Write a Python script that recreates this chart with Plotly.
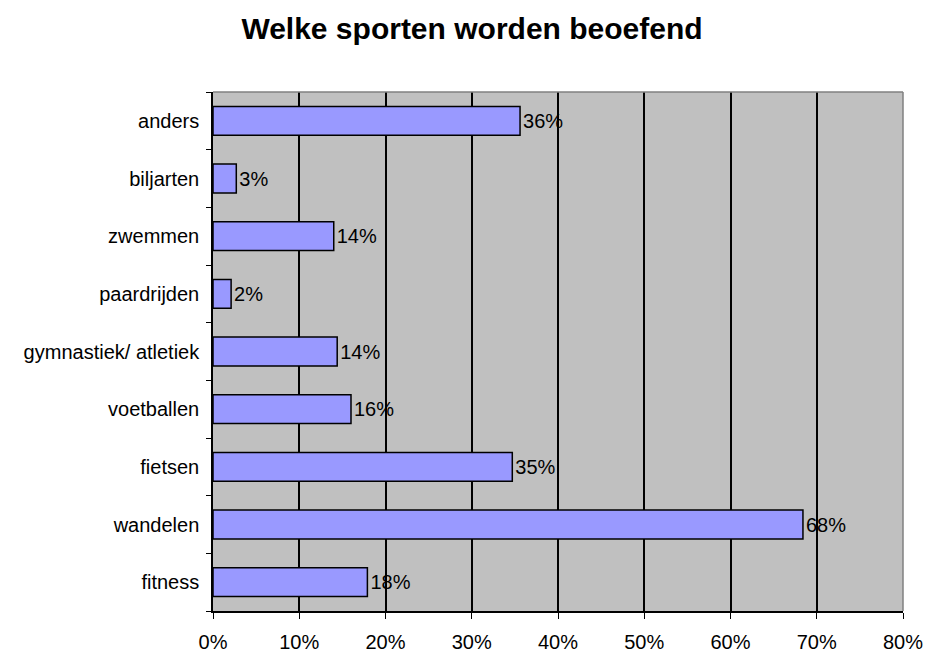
import plotly.graph_objects as go

categories = ["fitness", "wandelen", "fietsen", "voetballen", "gymnastiek/ atletiek",
              "paardrijden", "zwemmen", "biljarten", "anders"]
values = [17.9, 68.4, 34.7, 16.0, 14.4, 2.1, 14.0, 2.7, 35.6]
labels = [f"{round(v)}%" for v in values]
tick_vals = [0, 10, 20, 30, 40, 50, 60, 70, 80]
tick_text = [f"{t}%" for t in tick_vals]

FONT = "Liberation Sans, Arial"

fig = go.Figure(go.Bar(
    y=categories, x=values, orientation="h",
    marker=dict(color="#9999FF", line=dict(color="black", width=1.5)),
    text=labels, textposition="outside", cliponaxis=False,
    textfont=dict(family=FONT, size=20, color="black"),
    width=0.5, hoverinfo="skip",
))

fig.update_layout(
    width=926, height=653,
    paper_bgcolor="white", plot_bgcolor="#C0C0C0",
    margin=dict(l=213, r=23, t=92, b=42, autoexpand=False),
    title=dict(text="<b>Welke sporten worden beoefend</b>", x=0.5097, xanchor="center",
               y=0.9556, yanchor="middle",
               font=dict(family=FONT, size=30, color="black")),
    showlegend=False,
    font=dict(family=FONT, size=20, color="black"),
    shapes=[
        dict(type="line", xref="paper", yref="paper", x0=0, x1=1, y0=1, y1=1,
             line=dict(color="#808080", width=1.5), layer="above"),
        dict(type="line", xref="paper", yref="paper", x0=1, x1=1, y0=0, y1=1,
             line=dict(color="#808080", width=1.5), layer="above"),
    ],
)
fig.update_xaxes(range=[0, 80], tickvals=tick_vals, ticktext=tick_text,
                 automargin=False,
                 showgrid=True, gridcolor="black", gridwidth=1.5,
                 showline=True, linecolor="black", linewidth=1.5,
                 ticks="outside", ticklen=6, tickcolor="black",
                 ticklabelstandoff=6,
                 tickfont=dict(family=FONT, size=20, color="black"),
                 zeroline=False, mirror=False)
fig.update_yaxes(categoryorder="array", categoryarray=categories,
                 automargin=False,
                 showline=True, linecolor="black", linewidth=1.5,
                 ticks="outside", tickson="boundaries", ticklen=5, tickcolor="black",
                 ticklabelstandoff=8,
                 tickfont=dict(family=FONT, size=20, color="black"),
                 showgrid=False, zeroline=False)

# remove the browser's default 8px body margin so the figure sits at the window origin
fig.write_html("out.html", config={"displayModeBar": False},
               post_script="document.body.style.margin='0';")
